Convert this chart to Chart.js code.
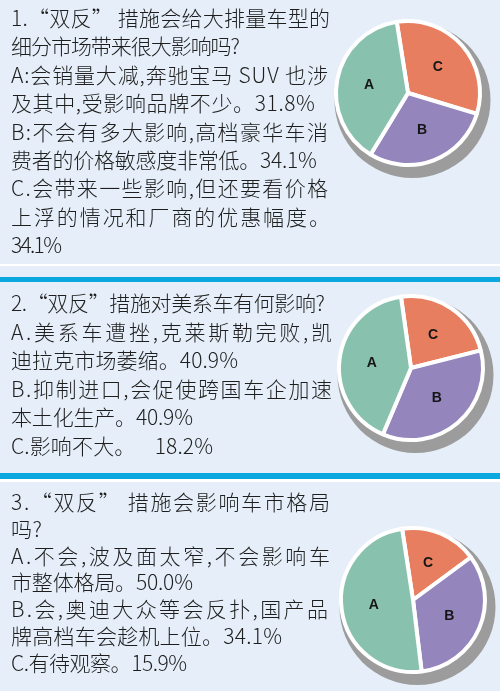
<!DOCTYPE html>
<html lang="zh-CN">
<head>
<meta charset="utf-8">
<script src="https://cdn.jsdelivr.net/npm/chart.js@4/dist/chart.umd.min.js"></script>
<style>
html,body{margin:0;padding:0;}
body{width:500px;height:691px;background:#E6EFF9;position:relative;overflow:hidden;
  font-family:"Noto Sans CJK SC","Noto Sans",sans-serif;}
.line{position:absolute;left:11px;white-space:pre;font-size:21px;line-height:28px;color:#1e1e1e;font-weight:300;}
.line span{display:inline-block;}
.sep{position:absolute;left:0;width:500px;}
canvas{position:absolute;}
</style>
</head>
<body>
<div class="sep" style="top:264px;height:2px;background:#ffffff"></div>
<div class="sep" style="top:277px;height:5px;background:#0AA8DF"></div>
<div class="sep" style="top:473px;height:6px;background:#0AA8DF"></div>
<div class="sep" style="top:479px;height:3px;background:#ffffff"></div>
<canvas id="pie1" width="190" height="190"></canvas>
<canvas id="pie2" width="190" height="190"></canvas>
<canvas id="pie3" width="190" height="190"></canvas>
<script>
// ---- data ----
const sliceLabels = ['C', 'B', 'A'];            // clockwise drawing order
const q1Shares = [32.2, 29.0, 38.8];            // slice shares as drawn in the picture
const q2Shares = [23.3, 35.3, 41.4];
const q3Shares = [17.3, 33.2, 49.5];
const sliceColors = ['#E67E5F', '#9486BC', '#88C2AF'];

const q1Lines = [
  '1.“双反” 措施会给大排量车型的',
  '细分市场带来很大影响吗?',
  'A:会销量大减,奔驰宝马 SUV 也涉',
  '及其中,受影响品牌不少。31.8%',
  'B:不会有多大影响,高档豪华车消',
  '费者的价格敏感度非常低。34.1%',
  'C.会带来一些影响,但还要看价格',
  '上浮的情况和厂商的优惠幅度。',
  '34.1%'
];
const q2Lines = [
  '2.“双反”措施对美系车有何影响?',
  'A.美系车遭挫,克莱斯勒完败,凯',
  '迪拉克市场萎缩。40.9%',
  'B.抑制进口,会促使跨国车企加速',
  '本土化生产。40.9%',
  'C.影响不大。    18.2%'
];
const q3Lines = [
  '3.“双反” 措施会影响车市格局',
  '吗?',
  'A.不会,波及面太窄,不会影响车',
  '市整体格局。50.0%',
  'B.会,奥迪大众等会反扑,国产品',
  '牌高档车会趁机上位。34.1%',
  'C.有待观察。15.9%'
];

// ---- layout (positions kept separate from data) ----
const q1Right = [330, 240, 328, 315, 328, 317, 328, 330, 62];
const q2Right = [325, 332, 238, 332, 193, 213];
const q3Right = [330, 42, 330, 193, 328, 282, 187];
const textLayout = [
  {lines: q1Lines, right: q1Right, first: 18, step: 28.4},
  {lines: q2Lines, right: q2Right, first: 303, step: 28.6},
  {lines: q3Lines, right: q3Right, first: 502, step: 26.8}
];
const LEFT = 11;

textLayout.forEach(p => {
  p.lines.forEach((t, i) => {
    const d = document.createElement('div');
    d.className = 'line';
    d.style.top = (p.first + i * p.step - 15) + 'px';
    const s = document.createElement('span');
    s.textContent = t;
    d.appendChild(s);
    document.body.appendChild(d);
    const w0 = s.getBoundingClientRect().width;
    const n = Array.from(t).length;
    const target = p.right[i] - LEFT;
    if (n > 1) s.style.letterSpacing = ((target - w0) / (n - 1)).toFixed(2) + 'px';
  });
});

// ---- pies ----
const shadowPlugin = {
  id: 'pieShadow',
  beforeDatasetsDraw(chart) {
    const arc = chart.getDatasetMeta(0).data[0];
    const {x, y, outerRadius} = arc.getProps(['x', 'y', 'outerRadius'], true);
    const ctx = chart.ctx;
    ctx.save();
    ctx.fillStyle = '#9c9c9c';
    ctx.beginPath();
    ctx.arc(x + 4.5, y + 7, outerRadius + 6, 0, Math.PI * 2);
    ctx.fill();
    ctx.restore();
  }
};
const letterPlugin = {
  id: 'pieLetters',
  afterDatasetsDraw(chart) {
    const ctx = chart.ctx;
    const labels = chart.data.labels;
    ctx.save();
    ctx.font = 'bold 14px "Liberation Sans", Arial, sans-serif';
    ctx.fillStyle = '#151515';
    ctx.textAlign = 'center';
    ctx.textBaseline = 'middle';
    chart.getDatasetMeta(0).data.forEach((arc, i) => {
      const {x, y, startAngle, endAngle, outerRadius} =
        arc.getProps(['x', 'y', 'startAngle', 'endAngle', 'outerRadius'], true);
      const mid = (startAngle + endAngle) / 2;
      const r = outerRadius * 0.55;
      ctx.fillText(labels[i], x + Math.cos(mid) * r, y + Math.sin(mid) * r);
    });
    ctx.restore();
  }
};

const pies = [
  {id: 'pie1', values: q1Shares, rotation: -9, cx: 408, cy: 93},
  {id: 'pie2', values: q2Shares, rotation: -8, cx: 411, cy: 368},
  {id: 'pie3', values: q3Shares, rotation: -8.7, cx: 413, cy: 600}
];
pies.forEach(p => {
  const cv = document.getElementById(p.id);
  cv.style.left = (p.cx - 95) + 'px';
  cv.style.top = (p.cy - 95) + 'px';
  cv.style.width = '190px';
  cv.style.height = '190px';
  new Chart(cv, {
    type: 'pie',
    data: {
      labels: sliceLabels,
      datasets: [{
        data: p.values,
        backgroundColor: sliceColors,
        borderColor: '#ffffff',
        borderWidth: 4,
        borderAlign: 'center'
      }]
    },
    options: {
      responsive: false,
      animation: false,
      rotation: p.rotation,
      radius: 72,
      layout: {padding: 0},
      plugins: {legend: {display: false}, tooltip: {enabled: false}}
    },
    plugins: [shadowPlugin, letterPlugin]
  });
});
</script>
</body>
</html>
